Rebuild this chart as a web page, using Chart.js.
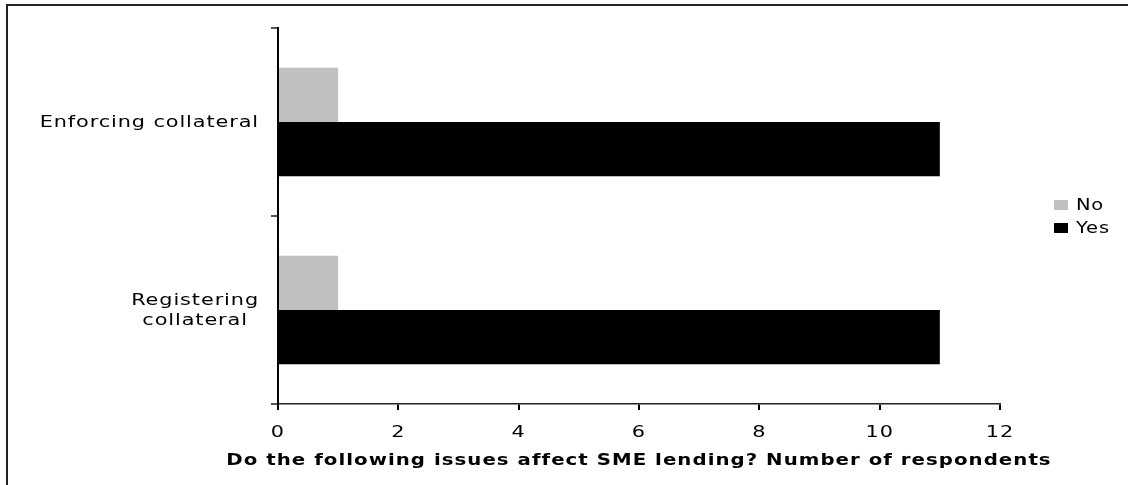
<!DOCTYPE html>
<html>
<head>
<meta charset="utf-8">
<title>SME lending issues</title>
<script src="https://cdn.jsdelivr.net/npm/chart.js@4.4.1/dist/chart.umd.min.js"></script>
<style>
  html, body { margin: 0; padding: 0; background: #ffffff; }
  #wrap { width: 1128px; height: 485px; position: relative; }
</style>
</head>
<body>
<div id="wrap"><canvas id="chart" width="1128" height="485"></canvas></div>
<script>
// Survey categories (one label may span several lines)
const categories = [["Enforcing collateral"], ["Registering", "collateral"]];
// Number of respondents answering each way
const noValues = [1, 1];
const yesValues = [11, 11];
const seriesNames = ["No", "Yes"];
const xTicks = [0, 2, 4, 6, 8, 10, 12];
const axisTitle = "Do the following issues affect SME lending? Number of respondents";

const FONT = "'DejaVu Sans', Verdana, sans-serif";
const TEXT_STRETCH = 1.3;   // wide, extended lettering

// All text on this canvas is drawn horizontally extended about its anchor
const wideTextPlugin = {
  id: 'wideText',
  beforeInit(chart) {
    const ctx = chart.ctx;
    const base = CanvasRenderingContext2D.prototype.fillText;
    ctx.fillText = function (t, x, y) {
      this.save();
      this.translate(x, y);
      this.scale(TEXT_STRETCH, 1);
      base.call(this, t, 0, 0);
      this.restore();
    };
  },
  beforeDraw(chart) {
    const ctx = chart.ctx;
    // Page frame: top and left rules
    ctx.save();
    ctx.strokeStyle = '#222';
    ctx.lineWidth = 2;
    ctx.beginPath();
    ctx.moveTo(7, 485);
    ctx.lineTo(7, 5);
    ctx.lineTo(1128, 5);
    ctx.stroke();
    ctx.restore();
    ctx.letterSpacing = '0.8px';
  }
};

// Category labels beside the y axis, lines centred within each block
const yLabelPlugin = {
  id: 'yLabels',
  afterDraw(chart) {
    const ctx = chart.ctx;
    const scale = chart.scales.y;
    ctx.save();
    ctx.letterSpacing = '0.7px';
    ctx.font = "16px " + FONT;
    ctx.fillStyle = '#000';
    ctx.textBaseline = 'middle';
    ctx.textAlign = 'center';
    const right = scale.right - 19;
    const lh = 20;
    categories.forEach((lines, i) => {
      const yc = scale.getPixelForValue(i) + 1;
      const widest = Math.max(...lines.map(l => ctx.measureText(l).width)) * TEXT_STRETCH;
      const cx = right - widest / 2;
      const y0 = yc - (lines.length - 1) * lh / 2;
      lines.forEach((l, j) => ctx.fillText(l, cx, y0 + j * lh));
    });
    ctx.restore();
  }
};

// Legend on the right
const legendPlugin = {
  id: 'sideLegend',
  afterDraw(chart) {
    const ctx = chart.ctx;
    ctx.save();
    ctx.letterSpacing = '0.6px';
    ctx.font = "15px " + FONT;
    ctx.textBaseline = 'middle';
    ctx.textAlign = 'left';
    chart.data.datasets.forEach((ds, i) => {
      const y = 205 + i * 23;
      ctx.fillStyle = ds.backgroundColor;
      ctx.fillRect(1054, y - 5, 14, 10);
      ctx.fillStyle = '#000';
      ctx.fillText(ds.label, 1076, y + 1);
    });
    ctx.restore();
  }
};

new Chart(document.getElementById('chart'), {
  type: 'bar',
  data: {
    labels: categories,
    datasets: [
      { label: seriesNames[0], data: noValues, backgroundColor: '#c0c0c0' },
      { label: seriesNames[1], data: yesValues, backgroundColor: '#000000' }
    ]
  },
  options: {
    indexAxis: 'y',
    responsive: false,
    animation: false,
    devicePixelRatio: 1,
    categoryPercentage: 0.576,
    barPercentage: 1.0,
    layout: { padding: { left: 0, right: 128, top: 28, bottom: 0 } },
    plugins: {
      legend: { display: false },
      tooltip: { enabled: false },
      title: { display: false }
    },
    scales: {
      x: {
        type: 'linear',
        min: xTicks[0],
        max: xTicks[xTicks.length - 1],
        afterFit(scale) { scale.height = 81; },
        afterBuildTicks(scale) { scale.ticks = xTicks.map(v => ({ value: v })); },
        ticks: {
          font: { family: FONT, size: 16 },
          color: '#000',
          padding: 13,
          maxRotation: 0
        },
        grid: {
          drawOnChartArea: false,
          drawTicks: true,
          tickLength: 6,
          color: '#000',
          lineWidth: 2
        },
        border: { display: true, color: '#222', width: 1.5 },
        title: {
          display: true,
          text: axisTitle,
          font: { family: FONT, size: 15.2, weight: 'bold' },
          color: '#000',
          padding: { top: 0, bottom: 15 }
        }
      },
      y: {
        type: 'category',
        afterFit(scale) { scale.width = 278; },
        ticks: { display: false },
        grid: {
          offset: true,
          drawOnChartArea: false,
          drawTicks: true,
          tickLength: 7,
          color: '#555',
          lineWidth: 2
        },
        border: { display: true, color: '#000', width: 2 }
      }
    }
  },
  plugins: [wideTextPlugin, yLabelPlugin, legendPlugin]
});
</script>
</body>
</html>
